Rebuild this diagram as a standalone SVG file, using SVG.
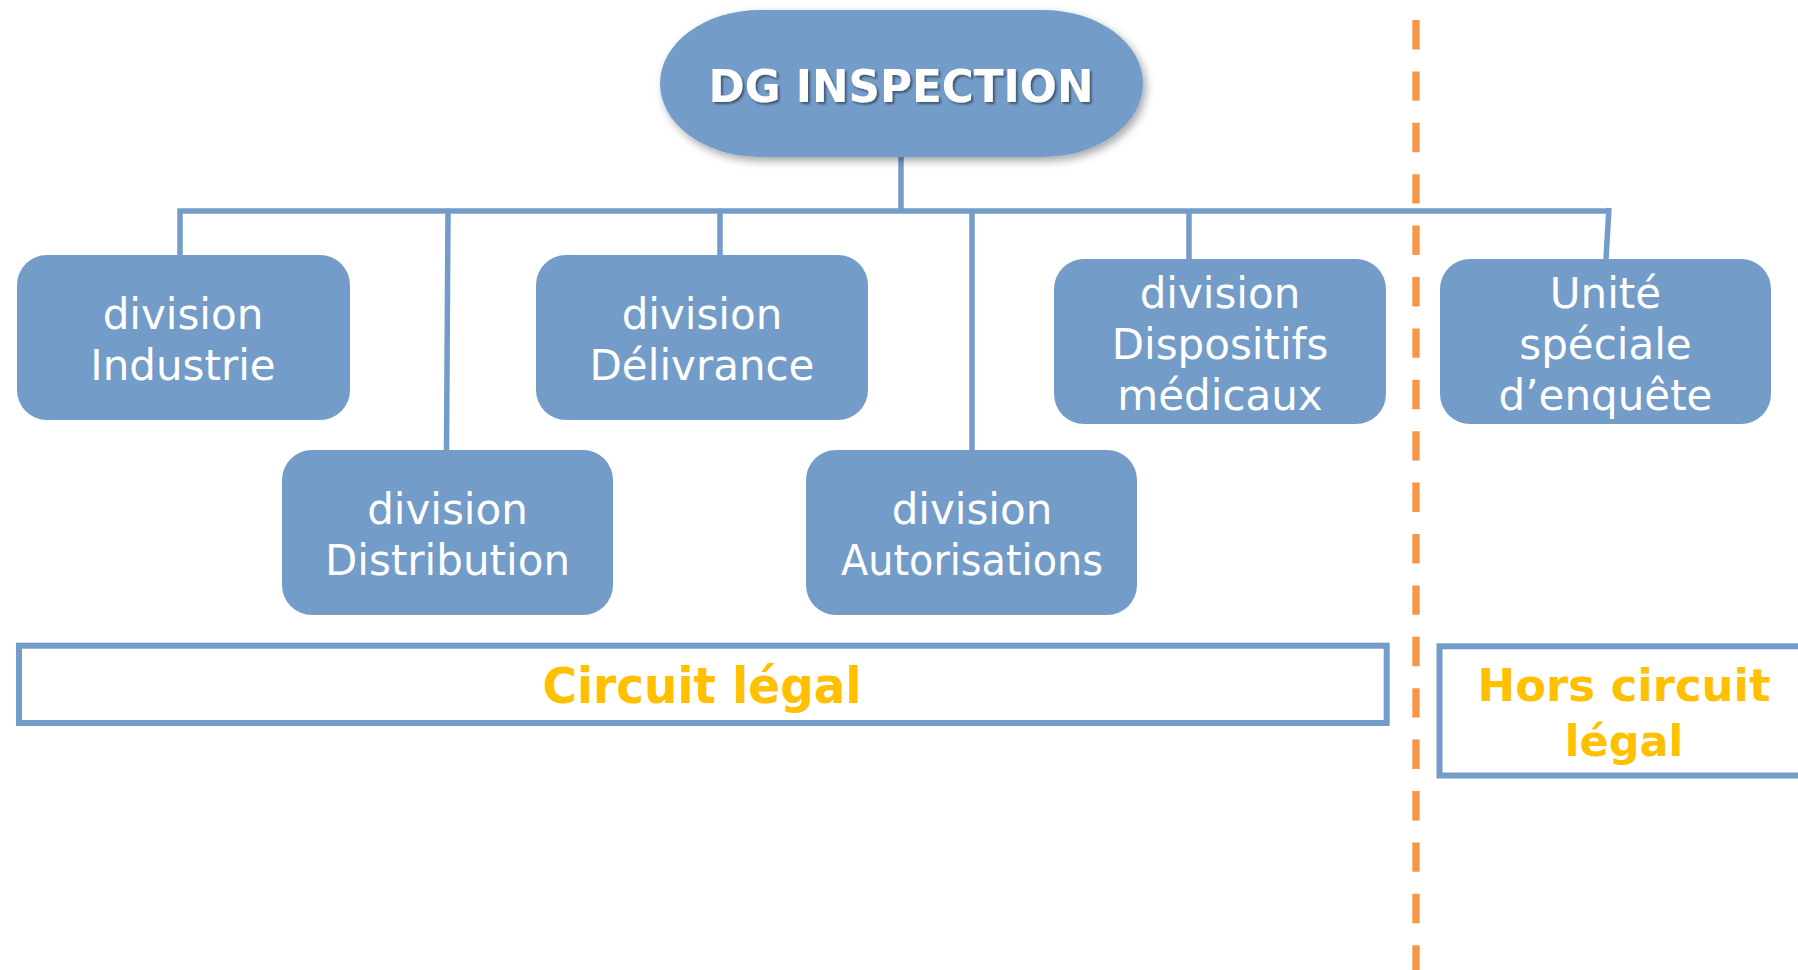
<svg xmlns="http://www.w3.org/2000/svg" width="1798" height="970" viewBox="0 0 1798 970">
<defs>
<style>
.box{fill:#739CC9;}
.lbl{font-family:"DejaVu Sans",Verdana,sans-serif;font-size:42px;fill:#FFFFFF;text-anchor:middle;}
.conn{fill:none;stroke:#739CC9;stroke-width:5.5;}
.frame{fill:none;stroke:#739CC9;stroke-width:6;}
.legal{font-family:"DejaVu Sans",Verdana,sans-serif;font-weight:bold;fill:#FFC000;text-anchor:middle;}
</style>
<filter id="shadow" x="-10%" y="-10%" width="125%" height="135%">
<feDropShadow dx="3" dy="4" stdDeviation="4" flood-color="#000" flood-opacity="0.35"/>
</filter>
<filter id="tshadow" x="-5%" y="-20%" width="110%" height="150%">
<feDropShadow dx="2" dy="2" stdDeviation="1.2" flood-color="#000" flood-opacity="0.45"/>
</filter>
</defs>
<rect width="1798" height="970" fill="#FFFFFF"/>

<g id="connectors">
<path class="conn" d="M901,157 V211"/>
<path class="conn" d="M180,255 V211 H1607"/>
<path class="conn" d="M448,211 L446.5,450"/>
<path class="conn" d="M720,211 V255"/>
<path class="conn" d="M972,211 V450"/>
<path class="conn" d="M1189,211 V259"/>
<path class="conn" d="M1609,208 L1606,259"/>
</g>

<g id="divider">
<line x1="1416" y1="20" x2="1416" y2="970" stroke="#F79646" stroke-width="7.3" stroke-dasharray="29.4 22"/>
</g>

<g id="dg-inspection">
<rect x="660" y="10" width="483" height="147" rx="100" ry="73.5" class="box" filter="url(#shadow)"/>
<text x="901" y="102" font-family="'DejaVu Sans',Verdana,sans-serif" font-weight="bold" font-size="45" fill="#FFFFFF" text-anchor="middle" textLength="385" lengthAdjust="spacingAndGlyphs" filter="url(#tshadow)">DG INSPECTION</text>
</g>

<g id="industrie">
<rect x="17" y="255" width="333" height="165" rx="30" class="box"/>
<text class="lbl" x="183" y="329">division</text>
<text class="lbl" x="183" y="380">Industrie</text>
</g>

<g id="delivrance">
<rect x="536" y="255" width="332" height="165" rx="30" class="box"/>
<text class="lbl" x="702" y="329">division</text>
<text class="lbl" x="702" y="380">Délivrance</text>
</g>

<g id="distribution">
<rect x="282" y="450" width="331" height="165" rx="30" class="box"/>
<text class="lbl" x="447.5" y="524">division</text>
<text class="lbl" x="447.5" y="575">Distribution</text>
</g>

<g id="autorisations">
<rect x="806" y="450" width="331" height="165" rx="30" class="box"/>
<text class="lbl" x="972" y="524">division</text>
<text class="lbl" x="972" y="575" textLength="262" lengthAdjust="spacingAndGlyphs">Autorisations</text>
</g>

<g id="dispositifs">
<rect x="1054" y="259" width="332" height="165" rx="30" class="box"/>
<text class="lbl" x="1220" y="308">division</text>
<text class="lbl" x="1220" y="359">Dispositifs</text>
<text class="lbl" x="1220" y="410">médicaux</text>
</g>

<g id="unite">
<rect x="1440" y="259" width="331" height="165" rx="30" class="box"/>
<text class="lbl" x="1605.5" y="308">Unité</text>
<text class="lbl" x="1605.5" y="359">spéciale</text>
<text class="lbl" x="1605.5" y="410">d’enquête</text>
</g>

<g id="circuit-legal">
<rect x="19" y="645.7" width="1367.7" height="77.3" class="frame"/>
<text class="legal" x="702" y="703" font-size="49" textLength="319" lengthAdjust="spacingAndGlyphs">Circuit légal</text>
</g>

<g id="hors-circuit-legal">
<rect x="1439.5" y="646.3" width="420" height="129.2" class="frame"/>
<text class="legal" x="1624" y="701" font-size="44" textLength="293" lengthAdjust="spacingAndGlyphs">Hors circuit</text>
<text class="legal" x="1624" y="756" font-size="43">légal</text>
</g>
</svg>
